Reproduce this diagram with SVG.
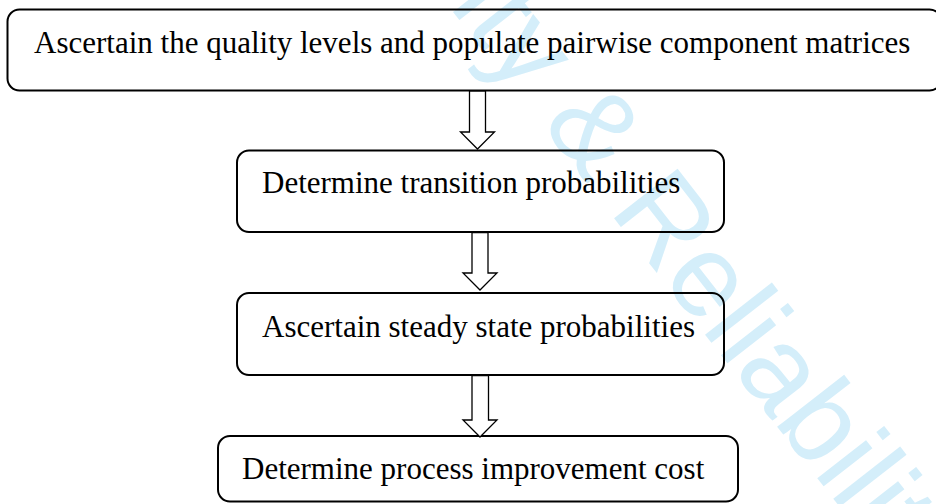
<svg xmlns="http://www.w3.org/2000/svg" width="936" height="504" viewBox="0 0 936 504">
  <style>
    .box { fill: none; stroke: #000; stroke-width: 2; }
    .label { font-family: "Liberation Serif", "Times New Roman", serif; font-size: 31px; fill: #000; }
    .arrow { fill: #fff; stroke: #000; stroke-width: 1.3; stroke-linejoin: miter; }
    .mark { font-family: "Liberation Sans", Arial, sans-serif; font-size: 117px; fill: #d4eefa; }
  </style>
  <rect width="936" height="504" fill="#fff"/>

  <!-- background watermark -->
  <g id="watermark">
    <text class="mark" transform="translate(296,-189) rotate(52)">Quality &amp; Reliability</text>
  </g>

  <!-- process steps -->
  <g id="step-quality-levels">
    <rect class="box" x="7.5" y="9.5" width="934" height="81" rx="12"/>
    <text class="label" x="34" y="52.5">Ascertain the quality levels and populate pairwise component matrices</text>
  </g>
  <g id="step-transition">
    <rect class="box" x="237" y="150.5" width="487" height="81.5" rx="12"/>
    <text class="label" x="262" y="193.3">Determine transition probabilities</text>
  </g>
  <g id="step-steady-state">
    <rect class="box" x="237" y="293" width="487" height="82" rx="12"/>
    <text class="label" x="262" y="337">Ascertain steady state probabilities</text>
  </g>
  <g id="step-cost">
    <rect class="box" x="218" y="436" width="520" height="65.5" rx="12"/>
    <text class="label" x="242" y="479">Determine process improvement cost</text>
  </g>

  <!-- hollow block arrows between steps -->
  <g id="connectors">
    <polygon class="arrow" points="469.5,91 485.5,91 485.5,132 494.5,132 477.5,149 460.5,132 469.5,132"/>
    <polygon class="arrow" points="472,232.5 488,232.5 488,273 497,273 480,290 463,273 472,273"/>
    <polygon class="arrow" points="472,375.5 488.5,375.5 488.5,420 497,420 480,437 463,420 472,420"/>
  </g>
</svg>
